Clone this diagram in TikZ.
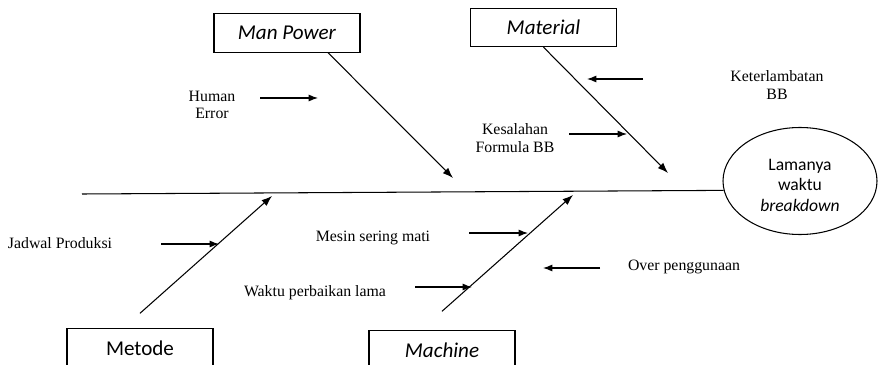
\documentclass[tikz,border=0pt]{standalone}
\usepackage{fontspec}
\setmainfont{Liberation Serif}
\newfontfamily\calibri{Carlito}
\usetikzlibrary{shapes.geometric,arrows.meta}

\begin{document}
\begin{tikzpicture}[x=0.3mm,y=-0.3mm,
  catbox/.style={draw,line width=0.9pt,minimum width=43.8mm,minimum height=11.5mm,inner sep=0pt,font=\calibri\fontsize{18}{20}\selectfont},
  branch/.style={line width=0.9pt,-{Latex[length=9pt,width=6.5pt]}},
  cause/.style={line width=0.9pt,-{Latex[length=8pt,width=6pt]}},
  lbl/.style={align=center,inner sep=0pt,font=\fontsize{13.5}{15}\selectfont}]
\clip (0,0) rectangle (878,365);

% Head
\node[draw,ellipse,line width=0.9pt,minimum width=46.2mm,minimum height=32.1mm,inner sep=0pt,align=center,font=\calibri\fontsize{15}{17.5}\selectfont] (effect) at (800,181) {\rule{0pt}{17pt}Lamanya\\waktu\\\textit{breakdown}};

% Spine
\coordinate (tail) at (82,194);
\draw[line width=0.9pt] (tail) -- (effect.187);

% Categories
\node[catbox] (manpower) at (287,33) {\textit{Man Power}};
\node[catbox] (material) at (543.5,27.5) {\textit{Material}};
\node[catbox] (metode) at (140,348) {Metode};
\node[catbox] (machine) at (442,350) {\textit{Machine}};

% Main bones
\coordinate (mpTip) at (453,178);
\coordinate (maTip) at (668,173);
\coordinate (meTip) at (272,196);
\coordinate (mcTip) at (573,195);
\draw[branch] ([xshift=12.3mm]manpower.south) -- (mpTip);
\draw[branch] (material.south) -- (maTip);
\draw[branch] ([yshift=4.5mm]metode.north) -- (meTip);
\draw[branch] ([yshift=5.7mm]machine.north) -- (mcTip);

% Causes
\node[lbl] (human) at (212,105) {Human\\Error};
\node[lbl] (keter) at (777,85) {Keterlambatan\\BB};
\node[lbl] (kesal) at (515,138) {Kesalahan\\Formula BB};
\node[lbl] (jadwal) at (60,243) {Jadwal Produksi};
\node[lbl] (mesin) at (373,238) {Mesin sering mati};
\node[lbl] (waktu) at (315,293) {Waktu perbaikan lama};
\node[lbl] (over) at (684,267) {Over penggunaan};

% Cause arrows
\coordinate (humanA) at (260,98);  \coordinate (humanB) at (318,98);
\coordinate (keterA) at (643,79);  \coordinate (keterB) at (587,79);
\coordinate (kesalA) at (569,134); \coordinate (kesalB) at (627,134);
\coordinate (jadwalA) at (161,244); \coordinate (jadwalB) at (219,244);
\coordinate (mesinA) at (469,233); \coordinate (mesinB) at (528,233);
\coordinate (waktuA) at (415,287); \coordinate (waktuB) at (472,287);
\coordinate (overA) at (600,268); \coordinate (overB) at (543,268);
\draw[cause] (humanA) -- (humanB);
\draw[cause] (keterA) -- (keterB);
\draw[cause] (kesalA) -- (kesalB);
\draw[cause] (jadwalA) -- (jadwalB);
\draw[cause] (mesinA) -- (mesinB);
\draw[cause] (waktuA) -- (waktuB);
\draw[cause] (overA) -- (overB);
\end{tikzpicture}
\end{document}
